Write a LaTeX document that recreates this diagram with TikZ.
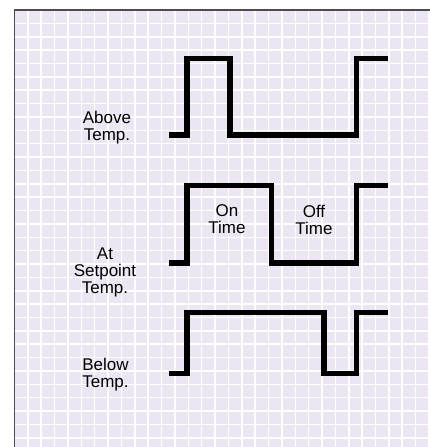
\documentclass[tikz,border=0pt]{standalone}
\usepackage{fontspec}
\setmainfont{Liberation Sans}
\definecolor{gridbg}{RGB}{236,230,243}
\definecolor{framegray}{RGB}{75,75,80}
\tikzset{
  /tikz/.cd,
  pulse/.style={line width=4.3pt,black},
  templabel/.style={align=center,inner sep=0pt,font=\fontsize{14.5}{14.5}\selectfont}
}

\begin{document}
\begin{tikzpicture}[x=0.03cm,y=-0.03cm,
                    gridline/.style={white,line width=1.3pt}]
  \useasboundingbox (0,0) rectangle (430,447);
  \fill[gridbg] (14.5,10) rectangle (430,447);
  \foreach \i in {1,...,31}
    \draw[gridline] ({14.5+\i*13.37},10) -- ({14.5+\i*13.37},447);
  \foreach \j in {1,...,32}
    \draw[gridline] (14.5,{10+\j*13.37}) -- (430,{10+\j*13.37});
  \draw[framegray,line width=1.4pt] (14.5,447) -- (14.5,10) -- (430,10);

  % above temp.
  \draw[pulse] (169,135) -- (187,135) -- (187,58.5) -- (230,58.5) -- (230,135)
               -- (356.7,135) -- (356.7,58.5) -- (387.7,58.5);
  % at setpoint
  \draw[pulse] (169,263) -- (187,263) -- (187,185.7) -- (271.7,185.7) -- (271.7,263)
               -- (356.7,263) -- (356.7,185.7) -- (387.7,185.7);
  % below temp.
  \draw[pulse] (169,373.3) -- (187,373.3) -- (187,312.3) -- (324,312.3) -- (324,373.3)
               -- (356.7,373.3) -- (356.7,312.3) -- (387.7,312.3);

  \node[templabel] (above) at (107,127.6) {Above\\Temp.};
  \node[templabel] (setpoint) at (105,272.1) {At\\Setpoint\\Temp.};
  \node[templabel] (below) at (105.5,374.6) {Below\\Temp.};
  \node[templabel] (ontime) at (227,219.5) {On\\Time};
  \node[templabel] (offtime) at (314,219.5) {Off\\Time};
\end{tikzpicture}
\end{document}
